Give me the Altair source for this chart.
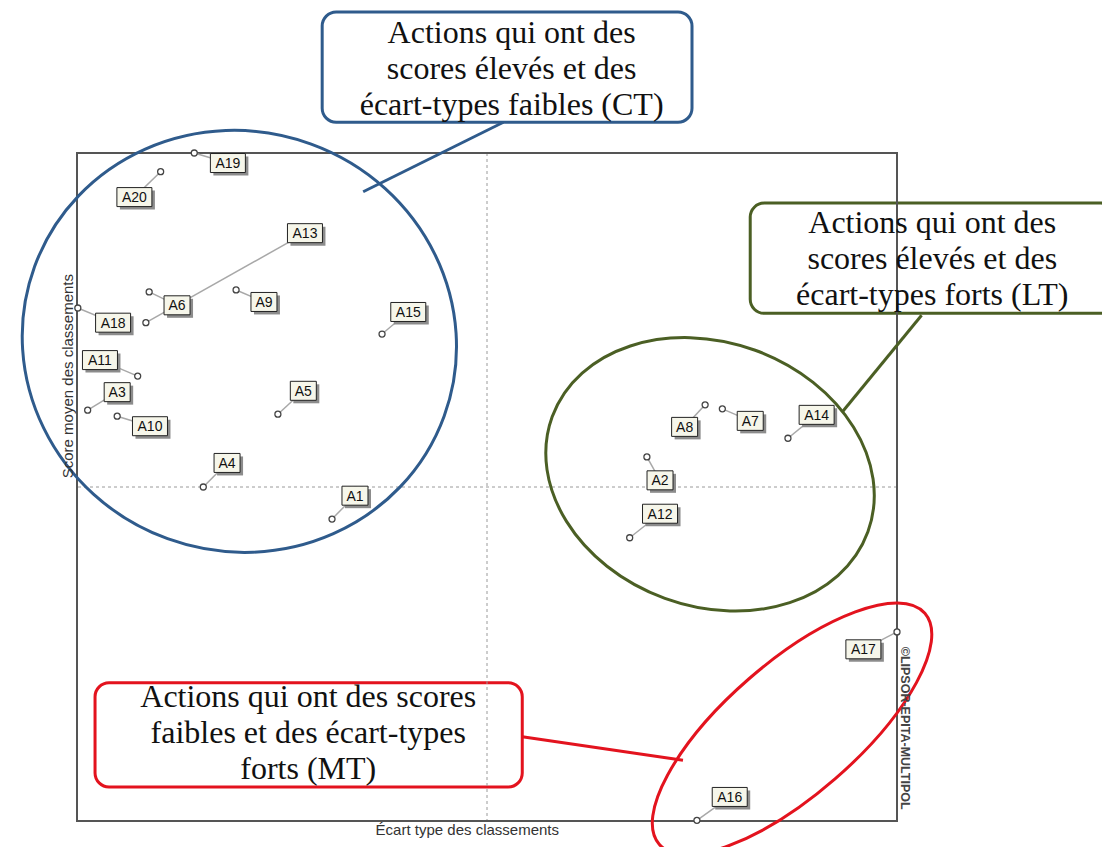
import altair as alt
import pandas as pd

# ---- data (x: écart type, y: score moyen, both 0-100) ----
actions = ["A1", "A2", "A3", "A4", "A5", "A6", "A7", "A8", "A9", "A10",
           "A11", "A12", "A13", "A14", "A15", "A16", "A17", "A18", "A19", "A20"]
ecart_type = [31.1, 69.5, 1.3, 15.4, 24.5, 8.8, 78.7, 76.6, 19.4, 4.9,
              7.4, 67.4, 8.4, 86.7, 37.2, 75.6, 100.0, 0.1, 14.3, 10.2]
score_moyen = [45.2, 54.5, 61.5, 50.0, 60.9, 79.2, 61.7, 62.3, 79.5, 60.6,
               66.6, 42.4, 74.6, 57.3, 72.9, 0.1, 28.3, 76.8, 100.0, 97.2]
label_x = [33.9, 71.1, 4.9, 18.3, 27.6, 12.2, 82.1, 74.1, 22.8, 8.9,
           2.8, 71.1, 27.8, 90.2, 40.4, 79.6, 95.9, 4.4, 18.4, 7.0]
label_y = [48.7, 51.0, 64.2, 53.6, 64.4, 77.2, 59.9, 59.0, 77.7, 59.1,
           69.0, 46.0, 88.0, 60.8, 76.2, 3.6, 25.7, 74.6, 98.5, 93.4]

# callouts (groups)
group_names = ["CT", "LT", "MT"]
group_colors = ["#2f5b8c", "#4b5f24", "#e3131e"]
group_texts = [
    "Actions qui ont des\nscores élevés et des\nécart-types faibles (CT)",
    "Actions qui ont des\nscores élevés et des\nécart-types forts (LT)",
    "Actions qui ont des scores\nfaibles et des écart-types\nforts (MT)",
]
box_x0 = [29.9, 82.1, 2.2]
box_x1 = [75.0, 126.6, 54.3]
box_y0 = [104.6, 76.0, 5.1]
box_y1 = [121.1, 92.5, 20.7]
text_x = [53.0, 104.3, 28.2]
text_y = [118.0, 89.5, 18.6]
conn_x0 = [34.9, 93.3, 54.3]
conn_y0 = [94.2, 61.2, 12.6]
conn_x1 = [52.0, 103.0, 73.9]
conn_y1 = [104.6, 75.7, 9.1]
ell_cx = [19.8, 77.2, 87.2]
ell_cy = [71.8, 51.9, 13.8]
ell_rx = [218, 168, 176]
ell_ry = [210, 132, 66]
ell_angle = [20, 20, 319]

x_title = "Écart type des classements"
y_title = "Score moyen des classements"
copyright_text = "©LIPSOR-EPITA-MULTIPOL"

# ---- tables ----
def box_path(w, h, dx=0.0, dy=0.0):
    return (f"M {-w/2+dx} {-h/2+dy} H {w/2+dx} V {h/2+dy} "
            f"H {-w/2+dx} Z")

pts = pd.DataFrame({"action": actions, "x": ecart_type, "y": score_moyen,
                    "lx": label_x, "ly": label_y})
pts["box"] = [box_path(26 if len(a) == 2 else 35, 19) for a in actions]
pts["shadow"] = [box_path(26 if len(a) == 2 else 35, 19, 3, 3) for a in actions]

grp = pd.DataFrame({"g": group_names, "color": group_colors, "text": group_texts,
                    "x0": box_x0, "x1": box_x1, "y0": box_y0, "y1": box_y1,
                    "tx": text_x, "ty": text_y,
                    "cx0": conn_x0, "cy0": conn_y0, "cx1": conn_x1, "cy1": conn_y1,
                    "ex": ell_cx, "ey": ell_cy, "angle": ell_angle})
grp["ell"] = [f"M {-a} 0 A {a} {b} 0 1 0 {a} 0 A {a} {b} 0 1 0 {-a} 0 Z"
              for a, b in zip(ell_rx, ell_ry)]

frame = pd.DataFrame({"x0": [0], "x1": [100], "y0": [0], "y1": [100]})
center = pd.DataFrame({"v": [50]})
titles = pd.DataFrame({"t": [x_title, y_title],
                       "x": [47.6, -1.1], "y": [-1.35, 66.6],
                       "angle": [0, 270]})
copy_df = pd.DataFrame({"t": [copyright_text], "x": [101.0], "y": [13.9]})

xs = alt.Scale(domain=[0, 100], nice=False, zero=False)
ys = alt.Scale(domain=[0, 100], nice=False, zero=False)

def X(f):
    return alt.X(f, type="quantitative", scale=xs, axis=None)

def Y(f):
    return alt.Y(f, type="quantitative", scale=ys, axis=None)

boxes = alt.Chart(grp).mark_rect(cornerRadius=14, fill="white", strokeWidth=3).encode(
    x=X("x0"), x2="x1", y=Y("y0"), y2="y1",
    stroke=alt.Stroke("color:N", scale=None))

vline = alt.Chart(center).mark_rule(color="#9a9a9a", strokeDash=[3, 3], strokeWidth=1).encode(
    x=X("v"))
hline = alt.Chart(center).mark_rule(color="#9a9a9a", strokeDash=[3, 3], strokeWidth=1).encode(
    y=Y("v"))

frame_l = alt.Chart(frame).mark_rect(fillOpacity=0, stroke="#555555", strokeWidth=2).encode(
    x=X("x0"), x2="x1", y=Y("y0"), y2="y1")

connectors = alt.Chart(grp).mark_rule(strokeWidth=3).encode(
    x=X("cx0"), y=Y("cy0"), x2="cx1", y2="cy1",
    color=alt.Color("color:N", scale=None))

ellipses = alt.Chart(grp).mark_point(size=4, filled=False, strokeWidth=3, opacity=1).encode(
    x=X("ex"), y=Y("ey"),
    shape=alt.Shape("ell:N", scale=None),
    angle=alt.Angle("angle:Q", scale=None),
    color=alt.Color("color:N", scale=None))

leaders = alt.Chart(pts).mark_rule(color="#a8a8a8", strokeWidth=1.5).encode(
    x=X("x"), y=Y("y"), x2="lx", y2="ly")

dots = alt.Chart(pts).mark_point(shape="circle", size=36, filled=True, fill="white",
                                 stroke="#444444", strokeWidth=1.3, opacity=1).encode(
    x=X("x"), y=Y("y"))

shadows = alt.Chart(pts).mark_point(size=4, filled=True, color="#8c8c8c", opacity=1).encode(
    x=X("lx"), y=Y("ly"), shape=alt.Shape("shadow:N", scale=None))

lboxes = alt.Chart(pts).mark_point(size=4, filled=True, fill="#f6f6ea", stroke="#222222",
                                   strokeWidth=1, opacity=1).encode(
    x=X("lx"), y=Y("ly"), shape=alt.Shape("box:N", scale=None))

ltext = alt.Chart(pts).mark_text(font="Liberation Sans", fontSize=14, color="#111111",
                                 align="center", baseline="middle", dy=1).encode(
    x=X("lx"), y=Y("ly"), text="action:N")

ctext = alt.Chart(grp).mark_text(font="Liberation Serif", fontSize=32, lineHeight=36,
                                 lineBreak="\n", color="#111111", align="center",
                                 baseline="middle").encode(
    x=X("tx"), y=Y("ty"), text="text:N")

ttext = alt.Chart(titles).mark_text(font="Liberation Sans", fontSize=15, color="#333333",
                                    align="center", baseline="middle").encode(
    x=X("x"), y=Y("y"), text="t:N",
    angle=alt.Angle("angle:Q", scale=None))

ctxt = alt.Chart(copy_df).mark_text(font="Liberation Sans", fontSize=12.5, fontWeight="bold",
                                    color="#444444", align="center", baseline="middle",
                                    angle=90).encode(
    x=X("x"), y=Y("y"), text="t:N")

chart = alt.layer(
    boxes, vline, hline, frame_l, connectors, ellipses,
    leaders, dots, shadows, lboxes, ltext, ctext, ttext, ctxt
).properties(
    width=820, height=668,
    autosize=alt.AutoSizeParams(type="none"),
    padding={"left": 69, "top": 145, "right": 205, "bottom": 26},
    background="white",
).configure_view(strokeWidth=0)

chart.save("out.html", embed_options={"renderer": "svg", "actions": False})
